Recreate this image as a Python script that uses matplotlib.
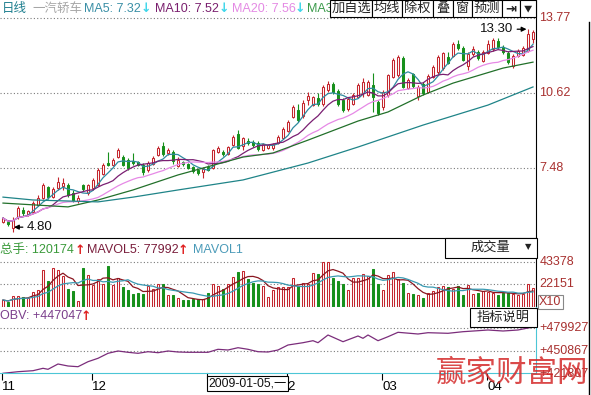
import numpy as np
import pandas as pd
import matplotlib
matplotlib.use("Agg")
import matplotlib.pyplot as plt
from matplotlib.patches import Rectangle
from matplotlib.lines import Line2D
from matplotlib.transforms import blended_transform_factory

plt.rcParams['font.family'] = ['Liberation Sans', 'Noto Sans CJK SC', 'DejaVu Sans']

# daily candles, Nov 2008 - Apr 2009
opens = [5.22, 5.22, 4.97, 5.43, 5.72, 5.55, 5.64, 5.93, 6.22, 6.69,
         6.27, 6.64, 6.73, 6.77, 6.43, 6.10, 6.77, 6.43, 6.64, 6.77,
         7.23, 7.69, 7.61, 7.94, 7.94, 7.82, 7.78, 7.73, 7.61, 7.40,
         7.65, 8.03, 8.40, 8.11, 8.15, 7.56, 7.73, 7.65, 7.52, 7.40,
         7.31, 7.52, 7.48, 8.15, 8.15, 8.07, 8.44, 8.91, 8.40, 8.61,
         8.57, 8.53, 8.24, 8.32, 8.32, 8.53, 8.74, 9.03, 9.62, 9.91,
         9.66, 10.33, 10.12, 10.42, 10.16, 10.75, 11.00, 10.71, 10.33, 9.95,
         10.16, 10.46, 10.63, 10.54, 10.96, 10.25, 10.04, 10.54, 11.29, 11.38,
         12.09, 10.83, 11.42, 10.50, 11.00, 10.67, 11.29, 11.50, 11.67, 12.13,
         12.18, 12.68, 12.51, 11.76, 12.26, 12.34, 11.97, 12.30, 12.47, 12.81,
         12.55, 12.30, 11.76, 12.18, 12.22, 12.39, 12.89]
highs = [5.43, 5.30, 5.43, 5.89, 5.85, 5.72, 6.10, 6.35, 6.85, 6.73,
         6.69, 7.10, 7.06, 6.85, 6.56, 6.35, 6.81, 6.81, 7.06, 7.48,
         7.69, 8.15, 7.90, 8.32, 8.03, 7.90, 8.11, 7.78, 7.69, 7.77,
         7.98, 8.40, 8.57, 8.32, 8.24, 7.94, 7.77, 7.69, 7.56, 7.44,
         7.52, 7.61, 8.28, 8.40, 8.24, 8.40, 8.86, 9.07, 8.78, 8.74,
         8.65, 8.61, 8.53, 8.49, 8.53, 8.86, 9.20, 9.49, 10.12, 10.16,
         10.33, 10.67, 10.50, 10.63, 10.96, 11.13, 11.09, 10.79, 10.42, 10.46,
         10.63, 11.04, 11.25, 11.17, 11.46, 10.33, 10.75, 11.42, 12.09, 12.22,
         12.18, 11.25, 11.46, 10.96, 11.09, 11.42, 11.80, 12.22, 12.34, 12.34,
         12.76, 12.85, 12.60, 12.34, 12.60, 12.43, 12.43, 12.85, 12.93, 12.93,
         12.64, 12.39, 12.26, 12.47, 12.60, 13.30, 13.27]
lows = [5.17, 5.05, 4.80, 5.34, 5.47, 5.47, 5.59, 5.89, 6.18, 6.18,
        6.22, 6.56, 6.56, 6.27, 6.06, 6.01, 6.52, 6.35, 6.56, 6.73,
        7.19, 7.56, 7.56, 7.90, 7.56, 7.40, 7.61, 7.56, 7.19, 7.31,
        7.61, 7.98, 7.98, 8.03, 7.65, 7.52, 7.56, 7.44, 7.27, 7.19,
        7.06, 7.36, 7.44, 8.11, 7.98, 8.03, 8.40, 8.28, 8.24, 8.44,
        8.36, 8.19, 8.19, 8.28, 8.24, 8.49, 8.70, 8.99, 9.58, 9.41,
        9.58, 10.12, 10.08, 10.08, 10.08, 10.67, 10.58, 10.08, 9.83, 9.87,
        10.12, 10.42, 10.46, 10.50, 9.83, 9.70, 9.91, 10.46, 11.25, 11.29,
        10.83, 10.79, 10.83, 10.33, 10.54, 10.63, 11.25, 11.42, 11.59, 11.84,
        12.13, 12.43, 11.97, 11.59, 12.18, 12.01, 11.93, 12.26, 12.39, 12.47,
        12.26, 11.84, 11.67, 12.13, 12.18, 12.34, 12.72]
closes = [5.38, 5.13, 5.30, 5.80, 5.59, 5.68, 6.01, 6.22, 6.77, 6.27,
          6.60, 6.89, 6.85, 6.35, 6.14, 6.22, 6.60, 6.77, 6.98, 7.40,
          7.61, 7.61, 7.82, 8.24, 7.61, 7.48, 7.69, 7.61, 7.31, 7.69,
          7.90, 8.32, 8.07, 8.24, 7.77, 7.82, 7.65, 7.48, 7.36, 7.27,
          7.44, 7.40, 8.24, 8.32, 8.07, 8.36, 8.78, 8.32, 8.74, 8.53,
          8.44, 8.28, 8.49, 8.44, 8.49, 8.78, 9.11, 9.41, 10.04, 9.49,
          10.21, 10.50, 10.46, 10.16, 10.88, 11.00, 10.67, 10.16, 9.91, 10.37,
          10.54, 10.96, 11.09, 11.09, 10.46, 9.79, 10.67, 11.38, 12.01, 12.13,
          10.88, 11.17, 10.92, 10.88, 10.63, 11.34, 11.71, 12.13, 12.30, 11.88,
          12.68, 12.51, 12.01, 12.26, 12.47, 12.09, 12.34, 12.68, 12.85, 12.55,
          12.34, 11.93, 12.18, 12.39, 12.51, 13.10, 13.18]
# volume, in units shown on the panel (X10)
volumes = [6800, 4800, 10300, 10300, 9650, 9000, 14500, 16100, 35400, 25100,
           37300, 35400, 29900, 17000, 15400, 5800, 37900, 30900, 21200, 26700,
           22500, 39600, 21200, 27700, 19300, 16100, 12900, 13500, 12900, 20300,
           17000, 22500, 22500, 11600, 11600, 9000, 6400, 6400, 7400, 7400,
           7400, 13800, 21900, 20300, 17000, 22500, 28900, 34000, 34700, 26700,
           23500, 22500, 20300, 9650, 16100, 19300, 19300, 19300, 28300, 20000,
           23500, 22200, 33000, 32100, 43700, 43700, 28300, 25100, 22500, 16100,
           28300, 28300, 31600, 29900, 37000, 22500, 16100, 30900, 34000, 27000,
           23500, 13800, 12800, 11600, 9000, 13800, 15400, 19300, 20300, 19300,
           17400, 20300, 11600, 21200, 12800, 13800, 15400, 14800, 13800, 11600,
           13800, 13800, 12800, 11600, 12800, 22200, 18000]

# long moving averages at a few days
ma30_idx = [0, 13, 19, 26, 35, 48, 54, 61, 71, 77, 84, 90, 100, 106]
ma30_val = [6.01, 5.85, 6.14, 6.56, 7.19, 7.94, 8.11, 8.65, 9.45, 9.83, 10.54, 11.04, 11.67, 11.92]
ma60_idx = [0, 6, 19, 26, 35, 48, 61, 71, 84, 97, 106]
ma60_val = [6.26, 6.14, 6.06, 6.26, 6.56, 6.98, 7.69, 8.36, 9.28, 10.12, 10.88]

# OBV
obv_idx = [0, 3, 6, 8, 9, 11, 13, 15, 17, 19, 21, 23, 25, 27, 29, 31, 33, 35, 37, 39,
           41, 43, 45, 47, 49, 51, 53, 55, 57, 60, 62, 63, 65, 68, 71, 72, 73, 75, 77, 79,
           83, 85, 89, 92, 95, 97, 100, 103, 106]
obv_val = [422690, 424712, 425976, 429008, 427744, 434441, 431914, 431030, 437347, 441643,
           447960, 450866, 449224, 447960, 449982, 448719, 450866, 449603, 449224, 449224,
           449224, 453014, 452130, 455036, 453014, 449982, 449603, 452130, 458447, 461354,
           463881, 461354, 471082, 462617, 469819, 466913, 471082, 463881, 468935, 474494,
           472346, 473989, 473230, 475252, 476516, 477400, 476137, 477400, 481190]

price_ticks = [13.77, 10.62, 7.48]
vol_ticks = [43378, 22151]
obv_ticks = [479927, 450867, 421807]
month_idx = [0, 18, 57, 76, 97]
month_lbl = ['11', '12', '2', '03', '04']
cursor_idx = 41
cursor_lbl = '2009-01-05,一'

W, H = 591, 395


def fx(px):
    return px / W


def fy(py):
    return 1 - py / H


RED = '#c4262e'
GREEN = '#17901c'
CYAN = '#4cc6d6'
LABEL = '#a8302f'

opens, highs, lows, closes, volumes = map(np.array, (opens, highs, lows, closes, volumes))
x = np.arange(len(closes))
up = closes >= opens
cols = np.where(up, RED, GREEN)
faces = np.where(up, 'white', GREEN)

fig = plt.figure(figsize=(W / 100, H / 100), dpi=100)
ax = fig.add_axes([0, fy(238), fx(536), 238 / H])
axv = fig.add_axes([0, fy(307), fx(536), 69 / H])
axo = fig.add_axes([0, fy(373), fx(536), 66 / H])

for a in (ax, axv, axo):
    a.set_xlim(-0.6, 106.6)
    a.set_yticks([])
    for s in a.spines.values():
        s.set_visible(False)
ax.set_xticks([])
axv.set_xticks([])

# ---- price panel
ax.set_ylim(4.546, 14.525)
ax.spines['right'].set_visible(True)
ax.spines['right'].set_color('black')
for v in price_ticks:
    ax.axhline(v, color='#7a7a7a', lw=0.8, ls=(0, (1, 2)), zorder=1)
    ax.text(1.006, v, '%.2f' % v, transform=ax.get_yaxis_transform(), ha='left', va='center',
            color=LABEL, fontsize=9, clip_on=False)

ax.vlines(x, lows, highs, colors=cols, lw=0.8, zorder=2)
body_h = np.maximum(np.abs(closes - opens), 0.02)
ax.bar(x, body_h, bottom=np.minimum(opens, closes), width=0.58, color=faces, edgecolor=cols,
       linewidth=0.75, zorder=3)

cl = pd.Series(closes)
ax.plot(x, cl.rolling(5, min_periods=1).mean(), color='#2f8aa0', lw=0.9, zorder=4)
ax.plot(x, cl.rolling(10, min_periods=1).mean(), color='#7a1f72', lw=0.9, zorder=4)
ax.plot(x, cl.rolling(20, min_periods=1).mean(), color='#e689e6', lw=0.9, zorder=4)
ax.plot(ma30_idx, ma30_val, color='#22702a', lw=0.9, zorder=4)
ax.plot(ma60_idx, ma60_val, color='#1f8488', lw=0.9, zorder=4)

ihi = int(np.argmax(highs))
ilo = int(np.argmin(lows))
ax.annotate('%.2f' % highs[ihi], xy=(ihi - 0.3, highs[ihi]), xytext=(ihi - 3.0, highs[ihi]),
            ha='right', va='center', fontsize=9.5, color='#111111',
            arrowprops=dict(arrowstyle='-|>', color='black', lw=0.9, mutation_scale=7,
                            shrinkA=1, shrinkB=0))
ax.annotate('%.2f' % lows[ilo], xy=(ilo + 0.2, lows[ilo] + 0.2), xytext=(ilo + 2.8, lows[ilo] + 0.2),
            ha='left', va='center', fontsize=9.5, color='#111111',
            arrowprops=dict(arrowstyle='-|>', color='black', lw=0.9, mutation_scale=7,
                            shrinkA=1, shrinkB=0))

# header of price panel
hdr = [(2, '日线', '#1e7f8f'), (32, '一汽轿车', '#a6a6a6'), (84, 'MA5: 7.32', '#3a8fa6'),
       (232, 'MA20: 7.56', '#e48ae4'), (155, 'MA10: 7.52', '#7a1f6e'), (307, 'MA3', '#3a9a4a')]
for px, t, c in hdr:
    fig.text(fx(px), fy(9), t, color=c, fontsize=9, ha='left', va='center', zorder=3)
for px in (141, 219, 295):
    fig.text(fx(px), fy(9), '↓', color='#3fd6ea', fontsize=9, fontweight='bold', ha='left',
             va='center', family='DejaVu Sans', zorder=3)

buttons = [(330, 372, '加自选'), (372, 402, '均线'), (402, 433, '除权'), (433, 453, '叠'),
           (453, 472, '窗'), (472, 502, '预测'), (502, 520, '⇥'), (520, 536, '▼')]
for x0, x1, t in buttons:
    fig.add_artist(Rectangle((fx(x0), fy(17)), fx(x1 - x0), 17 / H, transform=fig.transFigure,
                             facecolor='white', edgecolor='black', lw=0.8, zorder=5))
    fs = 6 if t == '▼' else 9.5
    fig.text(fx((x0 + x1) / 2), fy(8.5), t, ha='center', va='center', fontsize=fs,
             color='#222222', fontweight='bold' if t == '⇥' else 'normal',
             family=['Noto Sans CJK SC', 'DejaVu Sans'], zorder=6)

# ---- volume panel
axv.set_ylim(0, 66600)
axv.spines['top'].set_visible(True)
axv.spines['top'].set_color('black')
axv.spines['right'].set_visible(True)
axv.spines['right'].set_color('black')
axv.spines['bottom'].set_visible(True)
axv.spines['bottom'].set_color(CYAN)
for v in vol_ticks:
    axv.axhline(v, color='#7a7a7a', lw=0.8, ls=(0, (1, 2)), zorder=1)
    axv.text(1.006, v, str(v), transform=axv.get_yaxis_transform(), ha='left', va='center',
             color=LABEL, fontsize=9, clip_on=False)
axv.text(1.006, 0.07, 'X10', transform=axv.transAxes, ha='left', va='center', color=LABEL,
         fontsize=9, clip_on=False,
         bbox=dict(boxstyle='square,pad=0.1', facecolor='white', edgecolor='#888888', lw=0.8))
axv.bar(x, volumes, width=0.58, color=faces, edgecolor=cols, linewidth=0.75, zorder=2)
vs = pd.Series(volumes)
axv.plot(x, vs.rolling(5, min_periods=1).mean(), color='#8a1620', lw=0.9, zorder=3)
axv.plot(x, vs.rolling(10, min_periods=1).mean(), color='#3a9ab2', lw=0.9, zorder=3)

vh = [(0, '总手: 120174', '#3a9a3a'), (87, 'MAVOL5: 77992', '#7a1e3c'), (193, 'MAVOL1', '#4a9ab8')]
for px, t, c in vh:
    fig.text(fx(px), fy(250), t, color=c, fontsize=9, ha='left', va='center', zorder=3)
for px in (75, 178):
    fig.text(fx(px), fy(250), '↑', color='#e02020', fontsize=9, fontweight='bold', ha='left',
             va='center', family='DejaVu Sans', zorder=3)

fig.add_artist(Rectangle((fx(445), fy(258)), fx(92), 20 / H, transform=fig.transFigure,
                         facecolor='white', edgecolor='black', lw=0.8, zorder=5))
fig.text(fx(490), fy(248), '成交量', ha='center', va='center', fontsize=9.5, color='#222222', zorder=6)
fig.text(fx(528), fy(247), '▼', ha='center', va='center', fontsize=6, color='#222222',
         family='DejaVu Sans', zorder=6)

# ---- OBV panel
axo.set_ylim(423070, 506460)
axo.spines['bottom'].set_visible(True)
axo.spines['bottom'].set_color(CYAN)
axo.spines['right'].set_visible(True)
axo.spines['right'].set_color(CYAN)
for v in obv_ticks:
    axo.axhline(v, color='#7a7a7a', lw=0.8, ls=(0, (1, 2)), zorder=1)
    axo.text(1.006, v, '+%d' % v, transform=axo.get_yaxis_transform(), ha='left', va='center',
             color=LABEL, fontsize=9, clip_on=False)
axo.plot(obv_idx, obv_val, color='#7b2d7b', lw=0.9, zorder=3)

fig.text(fx(0), fy(316), 'OBV: +447047', color='#7b3f8c', fontsize=9, ha='left', va='center')
fig.text(fx(81), fy(316), '↑', color='#e02020', fontsize=9, fontweight='bold', ha='left',
         va='center', family='DejaVu Sans')

fig.add_artist(Rectangle((fx(470), fy(327)), fx(67), 19 / H, transform=fig.transFigure,
                         facecolor='white', edgecolor='black', lw=0.8, zorder=5))
fig.text(fx(503.5), fy(317.5), '指标说明', ha='center', va='center', fontsize=9.5, color='#222222', zorder=6)

# month ticks along the bottom
axo.set_xticks([m - 0.2 for m in month_idx])
axo.set_xticklabels(month_lbl, fontsize=9.5)
for lbl in axo.get_xticklabels():
    lbl.set_ha('left')
axo.tick_params(axis='x', direction='out', length=5, width=0.8, color='black', pad=1)
trans = blended_transform_factory(axo.transData, axo.transAxes)
axo.plot([cursor_idx - 0.2] * 2, [0, -0.08], color='black', lw=0.8, transform=trans, clip_on=False)
axo.text(cursor_idx + 0.1, -0.16, cursor_lbl, transform=trans, ha='left', va='center', fontsize=8.8,
         color='#111111', clip_on=False,
         bbox=dict(boxstyle='square,pad=0.12', facecolor='white', edgecolor='black', lw=0.8))

fig.add_artist(Line2D([fx(589), fx(589)], [fy(22), fy(395)], transform=fig.transFigure,
                      color='black', lw=1))

# watermark
fig.text(fx(436), fy(373), '赢家财富网', color='#d42a2a', fontsize=22, ha='left', va='center',
         family='Noto Sans CJK SC', fontweight='light', alpha=0.85, zorder=10)

fig.savefig('out.png', dpi=100, facecolor='white')
